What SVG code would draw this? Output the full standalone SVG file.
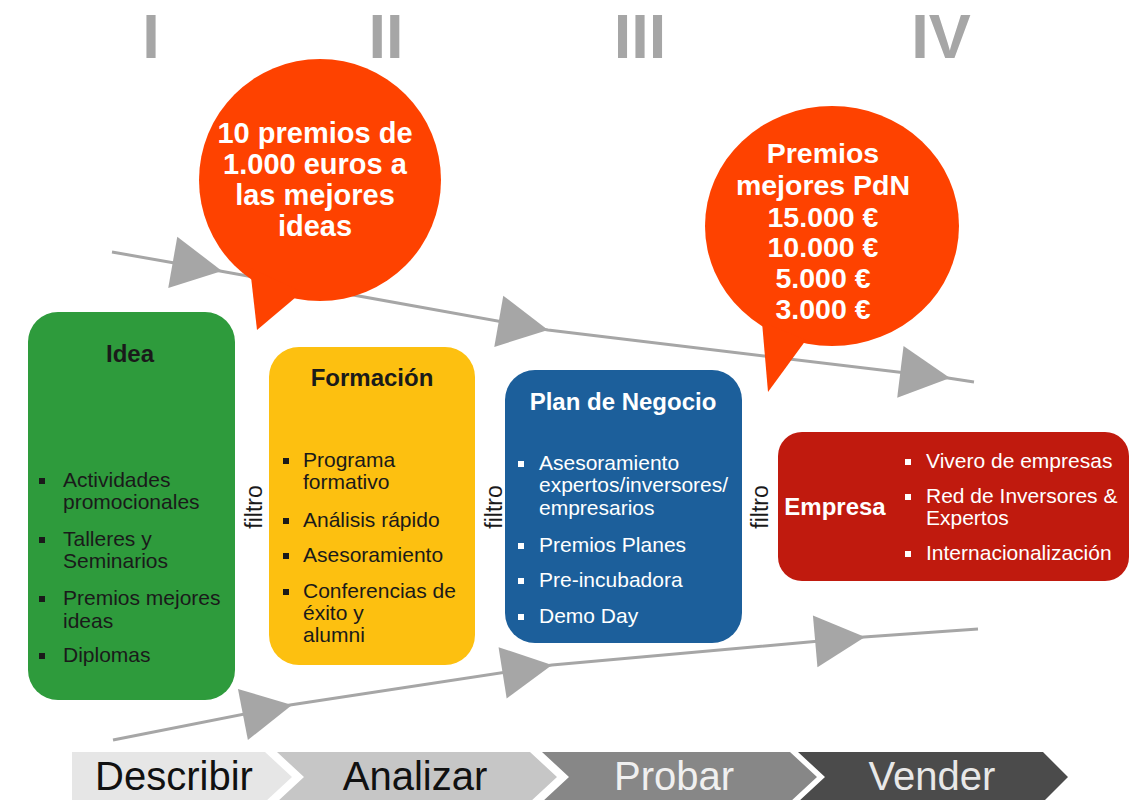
<svg xmlns="http://www.w3.org/2000/svg" xmlns:xlink="http://www.w3.org/1999/xlink" width="1131" height="800" viewBox="0 0 1131 800">
<style>
  .num { font-family: "Liberation Sans", Arial, sans-serif; font-weight: bold; font-size: 63px; fill: #a6a6a6; text-anchor: middle; }
  .bub { font-family: "Liberation Sans", Arial, sans-serif; font-weight: bold; fill: #ffffff; text-anchor: middle; }
  .title { font-family: "Liberation Sans", Arial, sans-serif; font-weight: bold; font-size: 24px; text-anchor: middle; }
  .item { font-family: "Liberation Sans", Arial, sans-serif; font-size: 21px; }
  .dark { fill: #1a1a1a; }
  .light { fill: #ffffff; }
  .filtro { font-family: "Liberation Sans", Arial, sans-serif; font-size: 23px; fill: #1a1a1a; text-anchor: middle; }
  .step { font-family: "Liberation Sans", Arial, sans-serif; font-size: 40px; text-anchor: middle; }
  .line { fill: none; stroke: #a6a6a6; stroke-width: 3; stroke-linejoin: round; }
  .ah { fill: #a6a6a6; }
</style>
<defs>
  <path id="arrowhead" d="M0,0 L-50,-26 L-50,26 Z"/>
  <rect id="bd" x="0" y="-6" width="6" height="6" fill="#1a1a1a"/>
  <rect id="bl" x="0" y="-6" width="6" height="6" fill="#ffffff"/>
</defs>
<rect width="1131" height="800" fill="#ffffff"/>

<g id="numerals">
  <text class="num" x="151" y="58">I</text>
  <text class="num" x="386" y="58">II</text>
  <text class="num" x="640" y="58">III</text>
  <text class="num" x="941" y="58">IV</text>
</g>

<g id="connectors">
  <path class="line" d="M112,252 L220,271 L548,330 L948,378 L974,382"/>
  <use href="#arrowhead" class="ah" transform="translate(222,271) rotate(10)"/>
  <use href="#arrowhead" class="ah" transform="translate(548,330) rotate(10)"/>
  <use href="#arrowhead" class="ah" transform="translate(950,378) rotate(7)"/>
  <path class="line" d="M113,740 L290,705 L552,665 L864,637 L978,629"/>
  <use href="#arrowhead" class="ah" transform="translate(292,705) rotate(-11)"/>
  <use href="#arrowhead" class="ah" transform="translate(552,665) rotate(-9)"/>
  <use href="#arrowhead" class="ah" transform="translate(865,637) rotate(-5)"/>
</g>

<g id="bubble-ideas">
  <circle cx="320" cy="180" r="121" fill="#fe4200"/>
  <polygon points="250,268 257,330 302,292" fill="#fe4200"/>
  <text class="bub" font-size="29" x="315" y="143">10 premios de</text>
  <text class="bub" font-size="29" x="315" y="174">1.000 euros a</text>
  <text class="bub" font-size="29" x="315" y="205">las mejores</text>
  <text class="bub" font-size="29" x="315" y="236">ideas</text>
</g>

<g id="bubble-pdn">
  <ellipse cx="832" cy="226" rx="127" ry="120" fill="#fe4200"/>
  <polygon points="762,322 768,392 806,340" fill="#fe4200"/>
  <text class="bub" font-size="28.5" x="823" y="163">Premios</text>
  <text class="bub" font-size="28.5" x="823" y="195">mejores PdN</text>
  <text class="bub" font-size="28.5" x="823" y="227">15.000 €</text>
  <text class="bub" font-size="28.5" x="823" y="257">10.000 €</text>
  <text class="bub" font-size="28.5" x="823" y="288">5.000 €</text>
  <text class="bub" font-size="28.5" x="823" y="319">3.000 €</text>
</g>

<g id="node-idea">
  <rect x="28" y="312" width="207" height="388" rx="30" fill="#2e9b3c"/>
  <text class="title dark" x="130" y="362" font-size="23">Idea</text>
  <use href="#bd" x="39" y="484"/>
  <text class="item dark" x="63" y="487">Actividades</text>
  <text class="item dark" x="63" y="509">promocionales</text>
  <use href="#bd" x="39" y="543"/>
  <text class="item dark" x="63" y="546">Talleres y</text>
  <text class="item dark" x="63" y="568">Seminarios</text>
  <use href="#bd" x="39" y="602"/>
  <text class="item dark" x="63" y="605">Premios mejores</text>
  <text class="item dark" x="63" y="628">ideas</text>
  <use href="#bd" x="39" y="659"/>
  <text class="item dark" x="63" y="662">Diplomas</text>
</g>

<g id="node-formacion">
  <rect x="269" y="347" width="206" height="318" rx="30" fill="#fdc010"/>
  <text class="title dark" x="372" y="386">Formación</text>
  <use href="#bd" x="283" y="464"/>
  <text class="item dark" x="303" y="467">Programa</text>
  <text class="item dark" x="303" y="489">formativo</text>
  <use href="#bd" x="283" y="524"/>
  <text class="item dark" x="303" y="527">Análisis rápido</text>
  <use href="#bd" x="283" y="559"/>
  <text class="item dark" x="303" y="562">Asesoramiento</text>
  <use href="#bd" x="283" y="595"/>
  <text class="item dark" x="303" y="598">Conferencias de</text>
  <text class="item dark" x="303" y="620">éxito y</text>
  <text class="item dark" x="303" y="642">alumni</text>
</g>

<g id="node-plan">
  <rect x="505" y="370" width="237" height="273" rx="30" fill="#1c5f9b"/>
  <text class="title light" x="623" y="410">Plan de Negocio</text>
  <use href="#bl" x="518" y="467"/>
  <text class="item light" x="539" y="470">Asesoramiento</text>
  <text class="item light" x="539" y="492">expertos/inversores/</text>
  <text class="item light" x="539" y="515">empresarios</text>
  <use href="#bl" x="518" y="549"/>
  <text class="item light" x="539" y="552">Premios Planes</text>
  <use href="#bl" x="518" y="584"/>
  <text class="item light" x="539" y="587">Pre-incubadora</text>
  <use href="#bl" x="518" y="620"/>
  <text class="item light" x="539" y="623">Demo Day</text>
</g>

<g id="node-empresa">
  <rect x="778" y="432" width="351" height="149" rx="24" fill="#c01a0e"/>
  <text class="title light" x="835" y="515">Empresa</text>
  <use href="#bl" x="905" y="465"/>
  <text class="item light" x="926" y="468">Vivero de empresas</text>
  <use href="#bl" x="905" y="500"/>
  <text class="item light" x="926" y="503">Red de Inversores &amp;</text>
  <text class="item light" x="926" y="525">Expertos</text>
  <use href="#bl" x="905" y="557"/>
  <text class="item light" x="926" y="560">Internacionalización</text>
</g>

<g id="filtros">
  <text class="filtro" transform="translate(262,507) rotate(-90)">filtro</text>
  <text class="filtro" transform="translate(502,507) rotate(-90)">filtro</text>
  <text class="filtro" transform="translate(768,507) rotate(-90)">filtro</text>
</g>

<g id="steps">
  <g id="step-describir">
    <polygon points="72,752 265,752 292,777 265,802 72,802" fill="#e6e6e6"/>
    <text class="step" x="174" y="790" fill="#111111">Describir</text>
  </g>
  <g id="step-analizar">
    <polygon points="277,752 530,752 557,777 530,802 277,802 304,777" fill="#c6c6c6"/>
    <text class="step" x="415" y="790" fill="#111111">Analizar</text>
  </g>
  <g id="step-probar">
    <polygon points="542,752 790,752 817,777 790,802 542,802 569,777" fill="#878787"/>
    <text class="step" x="674" y="790" fill="#f0f0f0">Probar</text>
  </g>
  <g id="step-vender">
    <polygon points="798,752 1043,752 1068,777 1043,802 798,802 825,777" fill="#4b4b4b"/>
    <text class="step" x="932" y="790" fill="#e8e8e8">Vender</text>
  </g>
</g>
</svg>
